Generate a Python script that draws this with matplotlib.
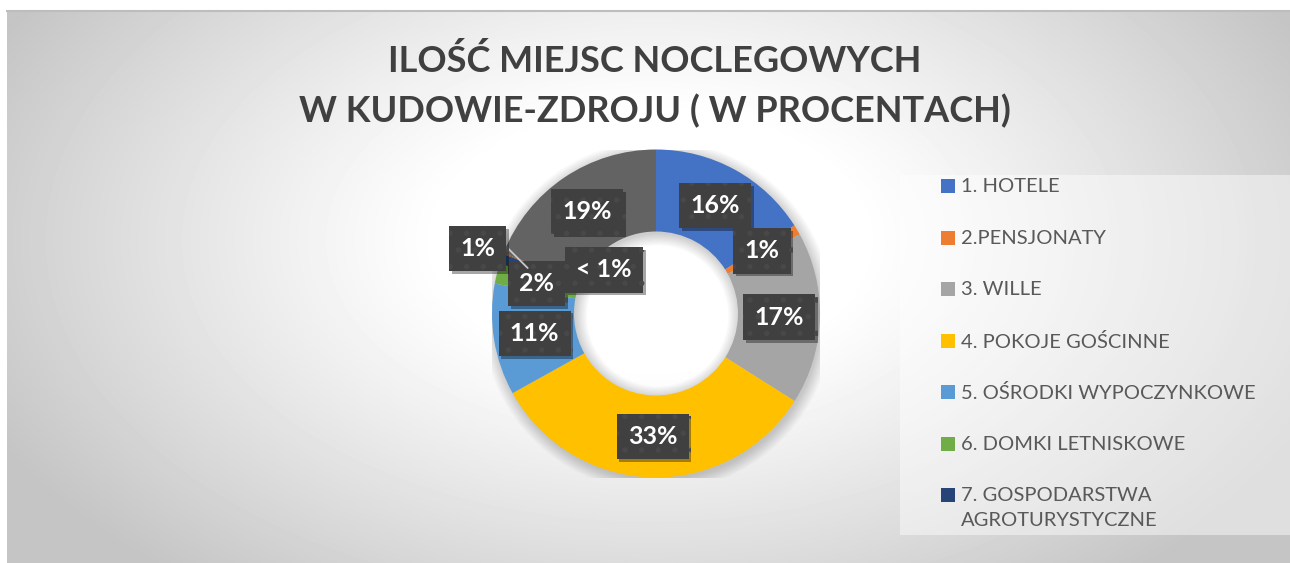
import numpy as np
import matplotlib
matplotlib.use("Agg")
import matplotlib.pyplot as plt
import matplotlib.patheffects as pe
from matplotlib.patches import Rectangle, Wedge
from matplotlib.lines import Line2D

plt.rcParams['font.family'] = ['Lato', 'DejaVu Sans']
plt.rcParams['hatch.linewidth'] = 1.5

# data
categories = ["1. HOTELE", "2.PENSJONATY", "3. WILLE", "4. POKOJE GOŚCINNE",
              "5. OŚRODKI WYPOCZYNKOWE", "6. DOMKI LETNISKOWE",
              "7. GOSPODARSTWA\nAGROTURYSTYCZNE", "8.", "9."]
values = [16, 1, 17, 33, 11, 2, 1, 0.1, 19]
labels = ["16%", "1%", "17%", "33%", "11%", "2%", "1%", "< 1%", "19%"]
colors = ["#4472C4", "#ED7D31", "#A5A5A5", "#FFC000", "#5B9BD5",
          "#70AD47", "#264478", "#9E480E", "#636363"]
n_legend = 7

W, H = 1290, 563
fig = plt.figure(figsize=(W / 100, H / 100), dpi=100)
fig.patch.set_facecolor("white")

# radial gradient background of the chart area
bx0, by0 = 7, 11
bw, bh = W - bx0, H - by0
yy, xx = np.mgrid[0:bh, 0:bw]
cx, cy = 650 - bx0, 240 - by0
d = np.sqrt(((xx - cx) / 700.0) ** 2 + ((yy - cy) / 420.0) ** 2)
grad = 1 - 0.23 * np.clip((d - 0.3) / 0.75, 0, 1) ** 1.1
bg = fig.add_axes([bx0 / W, 0, bw / W, bh / H])
bg.imshow(grad, cmap="gray", vmin=0, vmax=1, aspect="auto", interpolation="bilinear")
bg.axis("off")
fig.add_artist(Line2D([bx0 / W, 1], [1 - by0 / H, 1 - by0 / H], color="#bdbdbd", lw=1.5))

# title
fig.text(655 / W, 1 - 61 / H, "ILOŚĆ MIEJSC NOCLEGOWYCH", ha="center", va="center",
         fontsize=26, fontweight="bold", color="#404040")
fig.text(655 / W, 1 - 111 / H, "W KUDOWIE-ZDROJU ( W PROCENTACH)", ha="center", va="center",
         fontsize=26, fontweight="bold", color="#404040")

# donut
pcx, pcy, r = 656, 313.5, 164
ax = fig.add_axes([(pcx - r) / W, (H - pcy - r) / H, 2 * r / W, 2 * r / H])
ax.patch.set_alpha(0)

# soft shadow around the ring
for s in np.linspace(0.0, 0.07, 10):
    ax.add_patch(Wedge((0.01, -0.015), 1 + s, 0, 360, width=0.5 + 2 * s,
                       facecolor="#000000", alpha=0.018, lw=0, zorder=0))

wedges, _ = ax.pie(values, colors=colors, startangle=90, counterclock=False, radius=1,
                   wedgeprops=dict(width=0.5, edgecolor="none"))
ax.set_xlim(-1, 1)
ax.set_ylim(-1, 1)

shadow = [pe.withSimplePatchShadow(offset=(2, -2), shadow_rgbFace="black", alpha=0.35), pe.Normal()]
for i, w in enumerate(wedges):
    th = np.deg2rad((w.theta1 + w.theta2) / 2)
    x, y = 0.75 * np.cos(th), 0.75 * np.sin(th)
    kw = dict(ha="center", va="center", fontsize=18, fontweight="bold", color="white",
              bbox=dict(boxstyle="square,pad=0.45", fc="#404040", ec="#484848",
                        hatch=".", lw=0), zorder=5, annotation_clip=False)
    if i == 6:
        # moved label with leader line
        tx = ax.annotate(labels[i], xy=(0.83 * np.cos(th), 0.83 * np.sin(th)),
                         xytext=(-36, 14), textcoords="offset points",
                         arrowprops=dict(arrowstyle="-", color="#c8c8c8", lw=1.3,
                                         shrinkA=0, shrinkB=0,
                                         connectionstyle="angle,angleA=0,angleB=135"),
                         **kw)
    elif i == 7:
        tx = ax.annotate(labels[i], xy=(x, y), xytext=(45, -1),
                         textcoords="offset points", **kw)
    else:
        tx = ax.annotate(labels[i], xy=(x, y), **kw)
    tx.get_bbox_patch().set_path_effects(shadow)

# legend
fig.add_artist(Rectangle((900 / W, 1 - 535 / H), 390 / W, 360 / H, transform=fig.transFigure,
                         facecolor="white", alpha=0.45, lw=0))
for i in range(n_legend):
    yc = 186 + 51.5 * i
    fig.add_artist(Rectangle((941 / W, 1 - (yc + 7) / H), 14 / W, 14 / H,
                             transform=fig.transFigure, facecolor=colors[i], lw=0))
    fig.text(961 / W, 1 - (yc - 8) / H, categories[i], ha="left", va="top",
             fontsize=14.5, color="#595959", linespacing=1.55)

fig.savefig("out.png", dpi=100)
